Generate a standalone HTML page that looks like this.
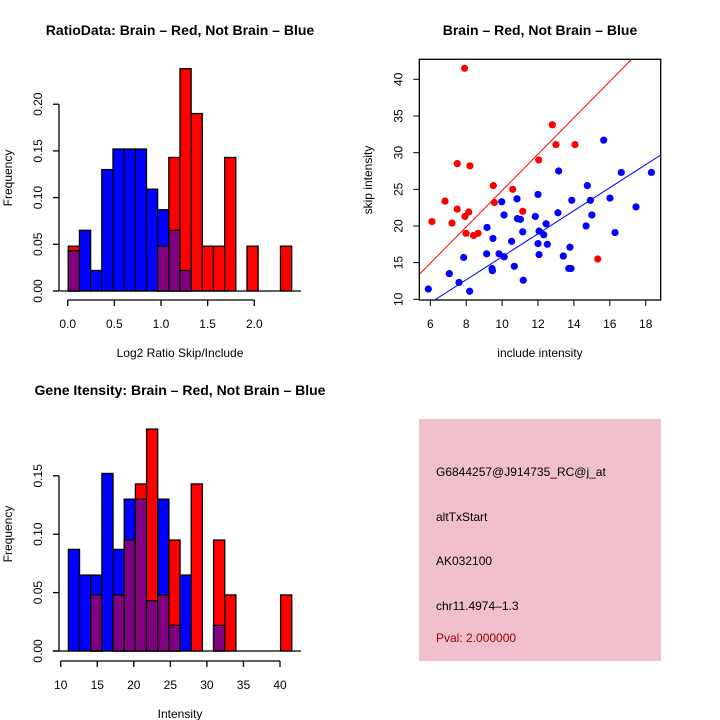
<!DOCTYPE html>
<html><head><meta charset="utf-8"><style>
html,body{margin:0;padding:0;background:#fff}
svg{display:block;font-family:"Liberation Sans",sans-serif}
</style></head><body>
<svg id="root" width="720" height="720" viewBox="0 0 720 720" xmlns="http://www.w3.org/2000/svg">
<defs>
<pattern id="hatch" width="4" height="4" patternUnits="userSpaceOnUse">
<rect width="4" height="4" fill="#f2c4cf"/><path d="M0 4L4 0M-1 1L1 -1M3 5L5 3" stroke="#eab2c0" stroke-width="0.6"/>
</pattern>
</defs>
<text x="180" y="35" font-size="14" font-weight="bold" text-anchor="middle">RatioData: Brain – Red, Not Brain – Blue</text>
<text x="540" y="35" font-size="14" font-weight="bold" text-anchor="middle">Brain – Red, Not Brain – Blue</text>
<text x="180" y="395" font-size="14" font-weight="bold" text-anchor="middle">Gene Itensity: Brain – Red, Not Brain – Blue</text>
<g id="p1"></g><g id="p2"></g><g id="p3"></g>
<rect x="419" y="419" width="242" height="242" fill="url(#hatch)"/>
<g font-size="12">
<text x="436" y="476">G6844257@J914735_RC@j_at</text>
<text x="436" y="521">altTxStart</text>
<text x="436" y="565">AK032100</text>
<text x="436" y="610">chr11.4974–1.3</text>
<text x="436" y="642" fill="#a00000">Pval: 2.000000</text>
</g>
</svg>
<script>
// Ratio histogram
const ratioBlue=[0.043,0.065,0.022,0.130,0.152,0.152,0.152,0.109,0.087,0.065,0.022,0,0,0,0,0,0,0,0,0];
const ratioRed=[0.048,0,0,0,0,0,0,0,0.048,0.143,0.238,0.190,0.048,0.048,0.143,0,0.048,0,0,0.048];
const ratioTicksX=[0.0,0.5,1.0,1.5,2.0];
const ratioTicksY=[0.00,0.05,0.10,0.15,0.20];
// Intensity histogram
const intBlue=[0.087,0.065,0.065,0.152,0.087,0.130,0.130,0.043,0.130,0.022,0.065,0,0,0.022,0,0,0,0,0,0];
const intRed=[0,0,0.048,0,0.048,0.095,0.143,0.190,0.048,0.095,0,0.143,0,0.095,0.048,0,0,0,0,0.048];
const intTicksX=[10,15,20,25,30,35,40];
const intTicksY=[0.00,0.05,0.10,0.15];
// Scatter
const redX=[7.91,6.09,6.82,7.21,7.5,7.5,7.93,8.14,8.21,7.99,8.41,8.66,9.51,9.57,10.59,11.15,12.04,12.8,13.0,14.06,15.33];
const redY=[41.5,20.6,23.4,20.4,28.5,22.3,21.3,21.9,28.2,19.0,18.7,19.0,25.5,23.2,25.0,22.0,29.0,33.8,31.1,31.1,15.5];
const blueX=[5.89,7.06,7.6,7.86,8.19,9.14,9.16,9.44,9.46,9.49,9.83,9.98,10.11,10.12,10.53,10.68,10.83,10.85,11.02,11.15,11.18,11.85,12.0,12.0,12.06,12.06,12.32,12.45,12.52,13.11,13.15,13.41,13.71,13.84,13.78,13.88,14.68,14.75,14.92,15.0,15.66,16.01,16.29,16.64,17.46,18.32];
const blueY=[11.4,13.5,12.3,15.7,11.1,16.2,19.8,14.2,13.9,18.3,16.2,23.3,21.5,15.8,17.9,14.5,23.7,21.0,20.9,19.2,12.6,21.3,24.3,17.6,19.3,16.1,18.8,20.3,17.5,21.8,27.5,15.9,14.2,14.2,17.1,23.5,20.0,25.5,23.5,21.5,31.7,23.8,19.1,27.3,22.6,27.3];
const redLine=[2.48,0.03];   // slope, intercept
const blueLine=[1.57,0.1];
const scatTicksX=[6,8,10,12,14,16,18];
const scatTicksY=[10,15,20,25,30,35,40];

const NS="http://www.w3.org/2000/svg";
function mk(parent,tag,attrs){const e=document.createElementNS(NS,tag);for(const k in attrs)e.setAttribute(k,attrs[k]);parent.appendChild(e);return e;}

function hist(g,o){
  const sx=v=>o.x0+(v-o.d0)*o.kx, sy=v=>o.y0-v*o.ky;
  for(let i=0;i<o.blue.length;i++){
    const a=o.b0+i*o.bw,b=a+o.bw,x1=sx(a),x2=sx(b);
    const bv=o.blue[i],rv=o.red[i];
    if(bv>0){const r=mk(g,'rect',{x:x1,y:sy(bv),width:x2-x1,height:sy(0)-sy(bv),fill:'#0000ff',stroke:'#000','stroke-width':1.3});
      
      }
    if(rv>0){const r=mk(g,'rect',{x:x1,y:sy(rv),width:x2-x1,height:sy(0)-sy(rv),fill:'#ff0000',stroke:'#000','stroke-width':1.3});
      
      }
    const m=Math.min(bv,rv);
    if(m>0){const r=mk(g,'rect',{x:x1,y:sy(m),width:x2-x1,height:sy(0)-sy(m),fill:'#800080',stroke:'#000','stroke-width':1.3});
      
      }
  }
  mk(g,'line',{x1:o.x0-8,y1:o.y0,x2:o.axR,y2:o.y0,stroke:'#000','stroke-width':1.3});
  const yt=o.yt;
  mk(g,'line',{x1:o.ax,y1:sy(yt[0]),x2:o.ax,y2:sy(yt[yt.length-1]),stroke:'#000','stroke-width':1.3});
  yt.forEach(v=>{mk(g,'line',{x1:o.ax-6,y1:sy(v),x2:o.ax,y2:sy(v),stroke:'#000','stroke-width':1.3});
    const t=mk(g,'text',{x:o.ax-17,y:sy(v),'font-size':12,'text-anchor':'middle',transform:`rotate(-90 ${o.ax-17} ${sy(v)})`});t.textContent=v.toFixed(2);
    
    });
  const xt=o.xt;
  mk(g,'line',{x1:sx(xt[0]),y1:o.xa,x2:sx(xt[xt.length-1]),y2:o.xa,stroke:'#000','stroke-width':1.3});
  xt.forEach(v=>{mk(g,'line',{x1:sx(v),y1:o.xa,x2:sx(v),y2:o.xa+6,stroke:'#000','stroke-width':1.3});
    const t=mk(g,'text',{x:sx(v),y:o.xa+28,'font-size':12,'text-anchor':'middle'});t.textContent=o.fmt(v);
    
    });
  const xl=mk(g,'text',{x:o.xlx,y:o.xly,'font-size':12,'text-anchor':'middle'});xl.textContent=o.xl;
  
  
  const yl=mk(g,'text',{x:12,y:o.yly,'font-size':12,'text-anchor':'middle',transform:`rotate(-90 12 ${o.yly})`});yl.textContent='Frequency';
  
  
}
hist(document.getElementById('p1'),{blue:ratioBlue,red:ratioRed,b0:0.0064,bw:0.1197,d0:0,x0:67.7,kx:93.3,y0:291,ky:934,ax:59,axR:301,xa:300,xt:ratioTicksX,yt:ratioTicksY,fmt:v=>v.toFixed(1),xl:'Log2 Ratio Skip/Include',xlx:180,xly:357,yly:178});
hist(document.getElementById('p3'),{blue:intBlue,red:intRed,b0:11.05,bw:1.528,d0:10,x0:60.7,kx:7.31,y0:651,ky:1168,ax:59,axR:301,xa:661,xt:intTicksX,yt:intTicksY,fmt:v=>String(v),xl:'Intensity',xlx:180,xly:718,yly:534});

(function(){
  const g=document.getElementById('p2');
  const L=419.3,R=660.7,T=59.3,B=300;
  const sx=v=>430.3+(v-6)*17.95, sy=v=>299.3-(v-10)*7.333;
  const xmin=(L-430.3)/17.95+6, xmax=(R-430.3)/17.95+6;
  const cp=mk(document.querySelector('defs'),'clipPath',{id:'sc'});mk(cp,'rect',{x:L,y:T,width:R-L,height:B-T});
  function line(p,col,name){const a=xmin,b=xmax;const l=mk(g,'line',{x1:sx(a),y1:sy(p[0]*a+p[1]),x2:sx(b),y2:sy(p[0]*b+p[1]),stroke:col,'stroke-width':1,'clip-path':'url(#sc)'});
    
    }
  line(redLine,'#ff0000','brain-fit-line');line(blueLine,'#0000ff','not-brain-fit-line');
  redX.forEach((x,i)=>{const c=mk(g,'circle',{cx:sx(x),cy:sy(redY[i]),r:3.6,fill:'#ff0000'});
    
    });
  blueX.forEach((x,i)=>{const c=mk(g,'circle',{cx:sx(x),cy:sy(blueY[i]),r:3.6,fill:'#0000ff'});
    
    });
  mk(g,'rect',{x:L,y:T,width:R-L,height:B-T,fill:'none',stroke:'#000','stroke-width':1.3});
  scatTicksX.forEach(v=>{mk(g,'line',{x1:sx(v),y1:B,x2:sx(v),y2:B+6,stroke:'#000'});
    const t=mk(g,'text',{x:sx(v),y:B+28,'font-size':12,'text-anchor':'middle'});t.textContent=v;
    
    });
  scatTicksY.forEach(v=>{mk(g,'line',{x1:L-6,y1:sy(v),x2:L,y2:sy(v),stroke:'#000'});
    const t=mk(g,'text',{x:L-17,y:sy(v),'font-size':12,'text-anchor':'middle',transform:`rotate(-90 ${L-17} ${sy(v)})`});t.textContent=v;
    
    });
  const xl=mk(g,'text',{x:540,y:357,'font-size':12,'text-anchor':'middle'});xl.textContent='include intensity';
  
  
  const yl=mk(g,'text',{x:372,y:180,'font-size':12,'text-anchor':'middle',transform:'rotate(-90 372 180)'});yl.textContent='skip intensity';
  
  
})();
</script>
</body></html>
